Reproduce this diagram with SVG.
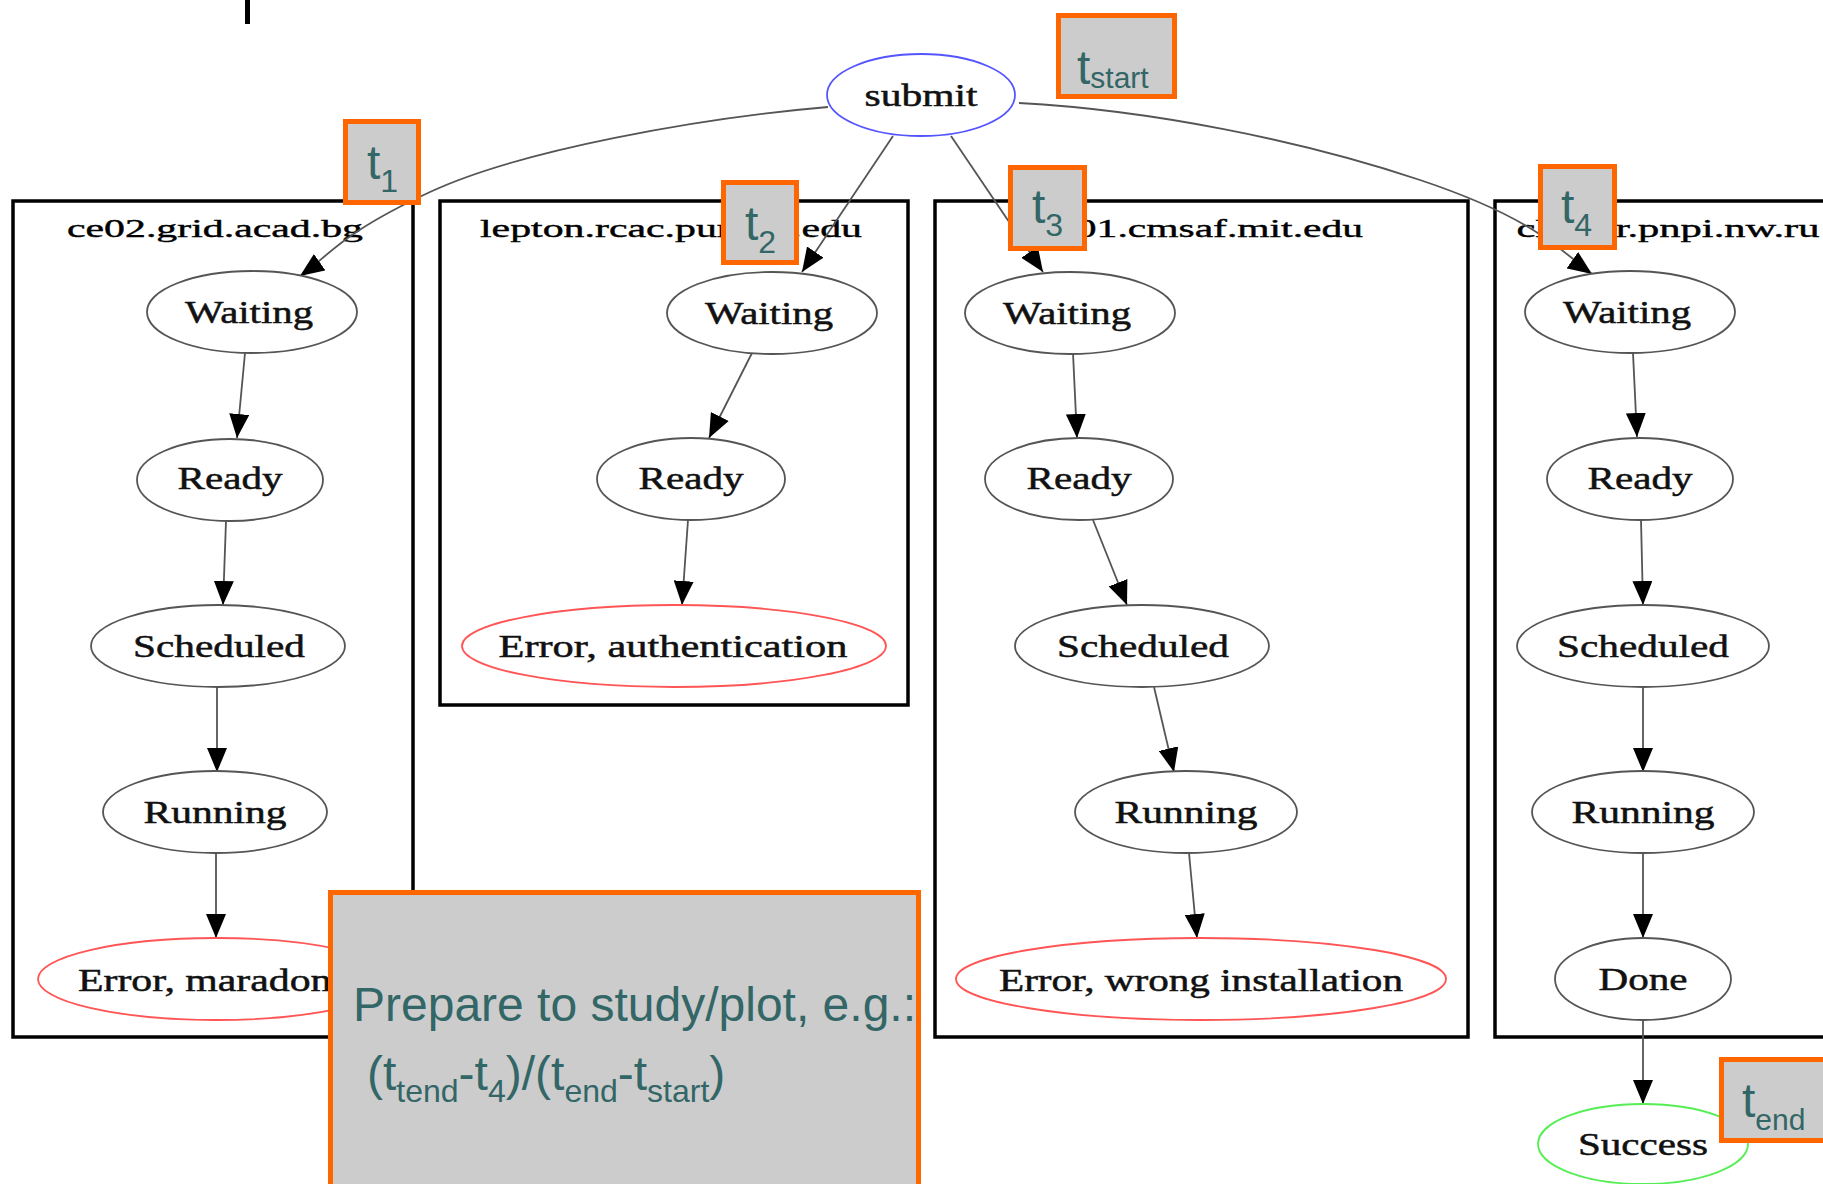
<svg xmlns="http://www.w3.org/2000/svg" width="1823" height="1184" viewBox="0 0 1823 1184">
<style>
.cl{fill:none;stroke:#000;stroke-width:3.5}
.cll{font-family:"Liberation Serif",serif;font-size:26px;fill:#000;stroke:#000;stroke-width:0.4;text-anchor:middle}
.n{fill:#fff;stroke:#555;stroke-width:1.8}
.nr{fill:#fff;stroke:#ff5555;stroke-width:1.8}
.ng{fill:#fff;stroke:#55ee55;stroke-width:1.8}
.nb{fill:#fff;stroke:#5555ff;stroke-width:1.8}
.nt{font-family:"Liberation Serif",serif;font-size:32px;fill:#111;stroke:#111;stroke-width:0.5;text-anchor:middle}
.e{fill:none;stroke:#555;stroke-width:1.8;marker-end:url(#ah)}
.tb{fill:#cccccc;stroke:#ff6600;stroke-width:5}
.tt{font-family:"Liberation Sans",Arial,sans-serif;font-size:48px;fill:#336666}
</style>
<defs>
<marker id="ah" markerUnits="userSpaceOnUse" markerWidth="24" markerHeight="20" viewBox="0 0 24 20" refX="24" refY="10" orient="auto">
<path d="M0,0 L24,10 L0,20 z" fill="#000"/>
</marker>
</defs>
<rect width="1823" height="1184" fill="#fff"/>
<rect x="245" y="0" width="5" height="24" fill="#000"/>

<g id="clusters">
<g id="cluster-ce02"><rect class="cl" x="13" y="201" width="400" height="836"/><text class="cll" x="215" y="237" textLength="296" lengthAdjust="spacingAndGlyphs">ce02.grid.acad.bg</text></g>
<g id="cluster-lepton"><rect class="cl" x="440" y="201" width="468" height="504"/><text class="cll" x="671" y="237" textLength="382" lengthAdjust="spacingAndGlyphs">lepton.rcac.purdue.edu</text></g>
<g id="cluster-ce01"><rect class="cl" x="935" y="201" width="533" height="836"/><text class="cll" x="1201" y="237" textLength="324" lengthAdjust="spacingAndGlyphs">ce01.cmsaf.mit.edu</text></g>
<g id="cluster-pnpi"><rect class="cl" x="1495" y="201" width="340" height="836"/><text class="cll" x="1668" y="237" textLength="303" lengthAdjust="spacingAndGlyphs">cluster.pnpi.nw.ru</text></g>
</g>

<g id="connectors">
<path class="e" d="M828,107 C700,118 520,150 430,192 S330,255 300,276"/>
<path class="e" d="M893,136 L802,272"/>
<path class="e" d="M951,136 L1043,272"/>
<path class="e" d="M1019,103 C1150,110 1300,140 1420,180 S1565,255 1592,274"/>
<path class="e" d="M245,353 L237,438"/>
<path class="e" d="M226,521 L223,605"/>
<path class="e" d="M217,687 L217,772"/>
<path class="e" d="M216,853 L216,938"/>
<path class="e" d="M752,353 L709,438"/>
<path class="e" d="M688,520 L682,605"/>
<path class="e" d="M1073,353 L1077,438"/>
<path class="e" d="M1093,520 L1127,605"/>
<path class="e" d="M1154,687 L1174,772"/>
<path class="e" d="M1189,853 L1197,938"/>
<path class="e" d="M1633,353 L1637,437"/>
<path class="e" d="M1641,520 L1643,605"/>
<path class="e" d="M1643,687 L1643,772"/>
<path class="e" d="M1643,853 L1643,938"/>
<path class="e" d="M1643,1020 L1643,1104"/>
</g>

<g id="node-submit"><ellipse class="nb" cx="921" cy="95" rx="94" ry="41"/><text class="nt" x="921" y="106" textLength="113" lengthAdjust="spacingAndGlyphs">submit</text></g>

<g id="node-c1-waiting"><ellipse class="n" cx="252" cy="312" rx="105" ry="41"/><text class="nt" x="249" y="323" textLength="128" lengthAdjust="spacingAndGlyphs">Waiting</text></g>
<g id="node-c1-ready"><ellipse class="n" cx="230" cy="480" rx="93" ry="41"/><text class="nt" x="230" y="489" textLength="105" lengthAdjust="spacingAndGlyphs">Ready</text></g>
<g id="node-c1-scheduled"><ellipse class="n" cx="218" cy="646" rx="127" ry="41"/><text class="nt" x="219" y="657" textLength="172" lengthAdjust="spacingAndGlyphs">Scheduled</text></g>
<g id="node-c1-running"><ellipse class="n" cx="215" cy="812" rx="112" ry="41"/><text class="nt" x="215" y="823" textLength="143" lengthAdjust="spacingAndGlyphs">Running</text></g>
<g id="node-c1-error"><ellipse class="nr" cx="216" cy="979" rx="178" ry="41"/><text class="nt" x="214" y="991" textLength="272" lengthAdjust="spacingAndGlyphs">Error, maradona</text></g>

<g id="node-c2-waiting"><ellipse class="n" cx="772" cy="313" rx="105" ry="41"/><text class="nt" x="769" y="324" textLength="128" lengthAdjust="spacingAndGlyphs">Waiting</text></g>
<g id="node-c2-ready"><ellipse class="n" cx="691" cy="479" rx="94" ry="41"/><text class="nt" x="691" y="489" textLength="105" lengthAdjust="spacingAndGlyphs">Ready</text></g>
<g id="node-c2-error"><ellipse class="nr" cx="674" cy="646" rx="212" ry="41"/><text class="nt" x="673" y="657" textLength="349" lengthAdjust="spacingAndGlyphs">Error, authentication</text></g>

<g id="node-c3-waiting"><ellipse class="n" cx="1070" cy="313" rx="105" ry="41"/><text class="nt" x="1067" y="324" textLength="128" lengthAdjust="spacingAndGlyphs">Waiting</text></g>
<g id="node-c3-ready"><ellipse class="n" cx="1079" cy="479" rx="94" ry="41"/><text class="nt" x="1079" y="489" textLength="105" lengthAdjust="spacingAndGlyphs">Ready</text></g>
<g id="node-c3-scheduled"><ellipse class="n" cx="1142" cy="646" rx="127" ry="41"/><text class="nt" x="1143" y="657" textLength="172" lengthAdjust="spacingAndGlyphs">Scheduled</text></g>
<g id="node-c3-running"><ellipse class="n" cx="1186" cy="812" rx="111" ry="41"/><text class="nt" x="1186" y="823" textLength="143" lengthAdjust="spacingAndGlyphs">Running</text></g>
<g id="node-c3-error"><ellipse class="nr" cx="1201" cy="979" rx="245" ry="41"/><text class="nt" x="1201" y="991" textLength="404" lengthAdjust="spacingAndGlyphs">Error, wrong installation</text></g>

<g id="node-c4-waiting"><ellipse class="n" cx="1630" cy="312" rx="105" ry="41"/><text class="nt" x="1627" y="323" textLength="128" lengthAdjust="spacingAndGlyphs">Waiting</text></g>
<g id="node-c4-ready"><ellipse class="n" cx="1640" cy="479" rx="93" ry="41"/><text class="nt" x="1640" y="489" textLength="105" lengthAdjust="spacingAndGlyphs">Ready</text></g>
<g id="node-c4-scheduled"><ellipse class="n" cx="1643" cy="646" rx="126" ry="41"/><text class="nt" x="1643" y="657" textLength="172" lengthAdjust="spacingAndGlyphs">Scheduled</text></g>
<g id="node-c4-running"><ellipse class="n" cx="1643" cy="812" rx="111" ry="41"/><text class="nt" x="1643" y="823" textLength="143" lengthAdjust="spacingAndGlyphs">Running</text></g>
<g id="node-c4-done"><ellipse class="n" cx="1643" cy="979" rx="88" ry="41"/><text class="nt" x="1643" y="990" textLength="89" lengthAdjust="spacingAndGlyphs">Done</text></g>
<g id="node-success"><ellipse class="ng" cx="1643" cy="1144" rx="105" ry="40"/><text class="nt" x="1643" y="1155" textLength="130" lengthAdjust="spacingAndGlyphs">Success</text></g>

<g id="tag-tstart"><rect class="tb" x="1058.5" y="15.5" width="116" height="81"/><text class="tt" x="1077" y="84" font-size="58">t<tspan font-size="30" dy="4">start</tspan></text></g>
<g id="tag-t1"><rect class="tb" x="345.5" y="121.5" width="73" height="81"/><text class="tt" x="367" y="179">t<tspan font-size="32" dy="13">1</tspan></text></g>
<g id="tag-t2"><rect class="tb" x="723.5" y="182.5" width="73" height="80"/><text class="tt" x="745" y="240">t<tspan font-size="32" dy="13">2</tspan></text></g>
<g id="tag-t3"><rect class="tb" x="1010.5" y="167.5" width="74" height="81"/><text class="tt" x="1032" y="223">t<tspan font-size="32" dy="13">3</tspan></text></g>
<g id="tag-t4"><rect class="tb" x="1540.5" y="166.5" width="74" height="81"/><text class="tt" x="1561" y="223">t<tspan font-size="32" dy="13">4</tspan></text></g>
<g id="tag-tend"><rect class="tb" x="1721.5" y="1059.5" width="120" height="81"/><text class="tt" x="1742" y="1117">t<tspan font-size="30" dy="13">end</tspan></text></g>

<g id="note"><rect class="tb" x="330.5" y="892.5" width="588" height="320"/>
<text class="tt" x="353" y="1021" font-size="47">Prepare to study/plot, e.g.:</text>
<text class="tt" x="367" y="1090" font-size="47">(t<tspan font-size="32" dy="12">tend</tspan><tspan dy="-12">-t</tspan><tspan font-size="32" dy="12">4</tspan><tspan dy="-12">)/(t</tspan><tspan font-size="32" dy="12">end</tspan><tspan dy="-12">-t</tspan><tspan font-size="32" dy="12">start</tspan><tspan dy="-12">)</tspan></text>
</g>
</svg>
